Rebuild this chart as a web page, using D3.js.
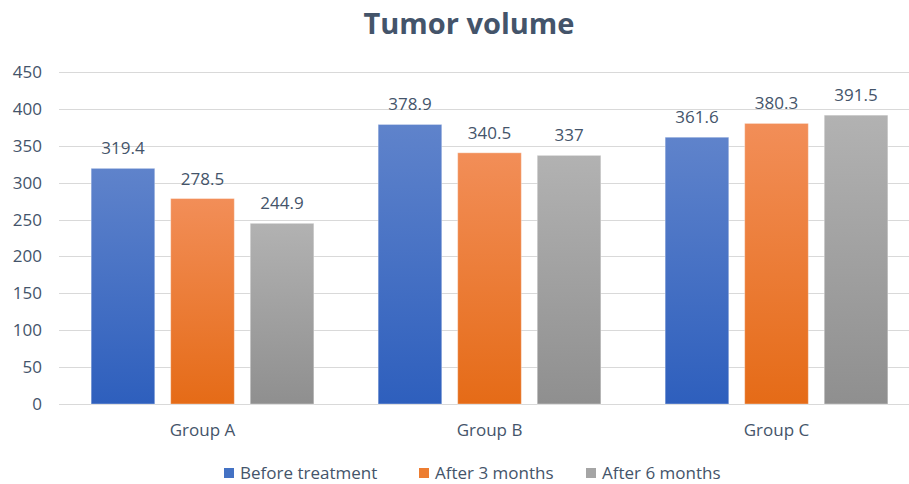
<!DOCTYPE html>
<html>
<head>
<meta charset="utf-8">
<script src="https://cdn.jsdelivr.net/npm/d3@7"></script>
<style>
  html, body { margin: 0; padding: 0; background: #fff; }
  svg { display: block; font-family: "Open Sans", Lato, sans-serif; }
</style>
</head>
<body>
<svg id="chart" width="909" height="484"></svg>
<script>
// Tumor volume per group, measured at three time points
const groups = ["Group A", "Group B", "Group C"];
const seriesNames = ["Before treatment", "After 3 months", "After 6 months"];
const beforeTreatment = [319.4, 378.9, 361.6];
const after3Months = [278.5, 340.5, 380.3];
const after6Months = [244.9, 337, 391.5];
const yTicks = [0, 50, 100, 150, 200, 250, 300, 350, 400, 450];

const seriesValues = [beforeTreatment, after3Months, after6Months];
const gradients = [
  { top: "#5f83cb", bottom: "#2e5fbd" },
  { top: "#f28e58", bottom: "#e56b17" },
  { top: "#b2b2b2", bottom: "#8f8f8f" }
];
const legendColors = ["#4472c4", "#ed7d31", "#a5a5a5"];
const textColor = "#44546a";
const fontFamily = "'Open Sans', Lato, sans-serif";
const labelSize = 17;

const svg = d3.select("#chart");
const margin = { left: 59, right: 920, top: 72, bottom: 404 };

const defs = svg.append("defs");
gradients.forEach((g, i) => {
  const lg = defs.append("linearGradient")
    .attr("id", "grad" + i)
    .attr("x1", 0).attr("y1", 0).attr("x2", 0).attr("y2", 1);
  lg.append("stop").attr("offset", "0%").attr("stop-color", g.top);
  lg.append("stop").attr("offset", "100%").attr("stop-color", g.bottom);
});

const x0 = d3.scaleBand()
  .domain(groups)
  .range([margin.left, margin.right])
  .paddingInner(0)
  .paddingOuter(0);

// bars occupy the middle of each category, with a gap between bars
const x1 = d3.scaleBand()
  .domain(d3.range(seriesNames.length))
  .range([x0.bandwidth() * 0.112, x0.bandwidth() * 0.888])
  .paddingInner(0.2)
  .paddingOuter(0);

const y = d3.scaleLinear()
  .domain([0, 450])
  .range([margin.bottom, margin.top]);

// title
svg.append("text")
  .attr("x", 469)
  .attr("y", 34)
  .attr("text-anchor", "middle")
  .attr("font-size", 29)
  .attr("font-weight", "bold")
  .attr("fill", textColor)
  .text("Tumor volume");

// gridlines
svg.append("g")
  .selectAll("line")
  .data(yTicks)
  .join("line")
  .attr("x1", margin.left)
  .attr("x2", 909)
  .attr("y1", d => Math.round(y(d)) + 0.5)
  .attr("y2", d => Math.round(y(d)) + 0.5)
  .attr("stroke", "#d9d9d9")
  .attr("stroke-width", 1);

// y axis labels
const yAxis = d3.axisLeft(y).tickValues(yTicks).tickSize(0).tickPadding(0);
const yg = svg.append("g")
  .attr("transform", `translate(42,0)`)
  .call(yAxis);
yg.select(".domain").remove();
yg.selectAll("text")
  .attr("font-size", labelSize)
  .attr("fill", textColor)
  .attr("font-family", fontFamily);

// x axis labels
const xAxis = d3.axisBottom(x0).tickSize(0).tickPadding(0);
const xg = svg.append("g")
  .attr("transform", `translate(0,${margin.bottom + 20})`)
  .call(xAxis);
xg.select(".domain").remove();
xg.selectAll("text")
  .attr("font-size", labelSize)
  .attr("fill", textColor)
  .attr("font-family", fontFamily);

// bars and value labels
const rows = groups.map((g, gi) => ({
  group: g,
  values: seriesValues.map((vals, si) => ({ si, value: vals[gi] }))
}));

const gGroups = svg.append("g")
  .selectAll("g")
  .data(rows)
  .join("g")
  .attr("transform", d => `translate(${x0(d.group)},0)`);

gGroups.selectAll("rect")
  .data(d => d.values)
  .join("rect")
  .attr("x", d => x1(d.si))
  .attr("width", x1.bandwidth())
  .attr("y", d => y(d.value))
  .attr("height", d => y(0) - y(d.value))
  .attr("fill", d => `url(#grad${d.si})`)
  .attr("stroke", "rgba(255,255,255,0.35)")
  .attr("stroke-width", 1);

gGroups.selectAll("text.val")
  .data(d => d.values)
  .join("text")
  .attr("class", "val")
  .attr("x", d => x1(d.si) + x1.bandwidth() / 2)
  .attr("y", d => y(d.value) - 14)
  .attr("text-anchor", "middle")
  .attr("font-size", labelSize)
  .attr("fill", textColor)
  .text(d => d.value);

// legend
const legendX = [224, 419, 586];
const legend = svg.append("g")
  .selectAll("g")
  .data(seriesNames)
  .join("g")
  .attr("transform", (d, i) => `translate(${legendX[i]},468)`);
legend.append("rect")
  .attr("width", 10).attr("height", 10)
  .attr("fill", (d, i) => legendColors[i]);
legend.append("text")
  .attr("x", 16)
  .attr("y", 11)
  .attr("font-size", labelSize)
  .attr("fill", textColor)
  .text(d => d);
</script>
</body>
</html>
